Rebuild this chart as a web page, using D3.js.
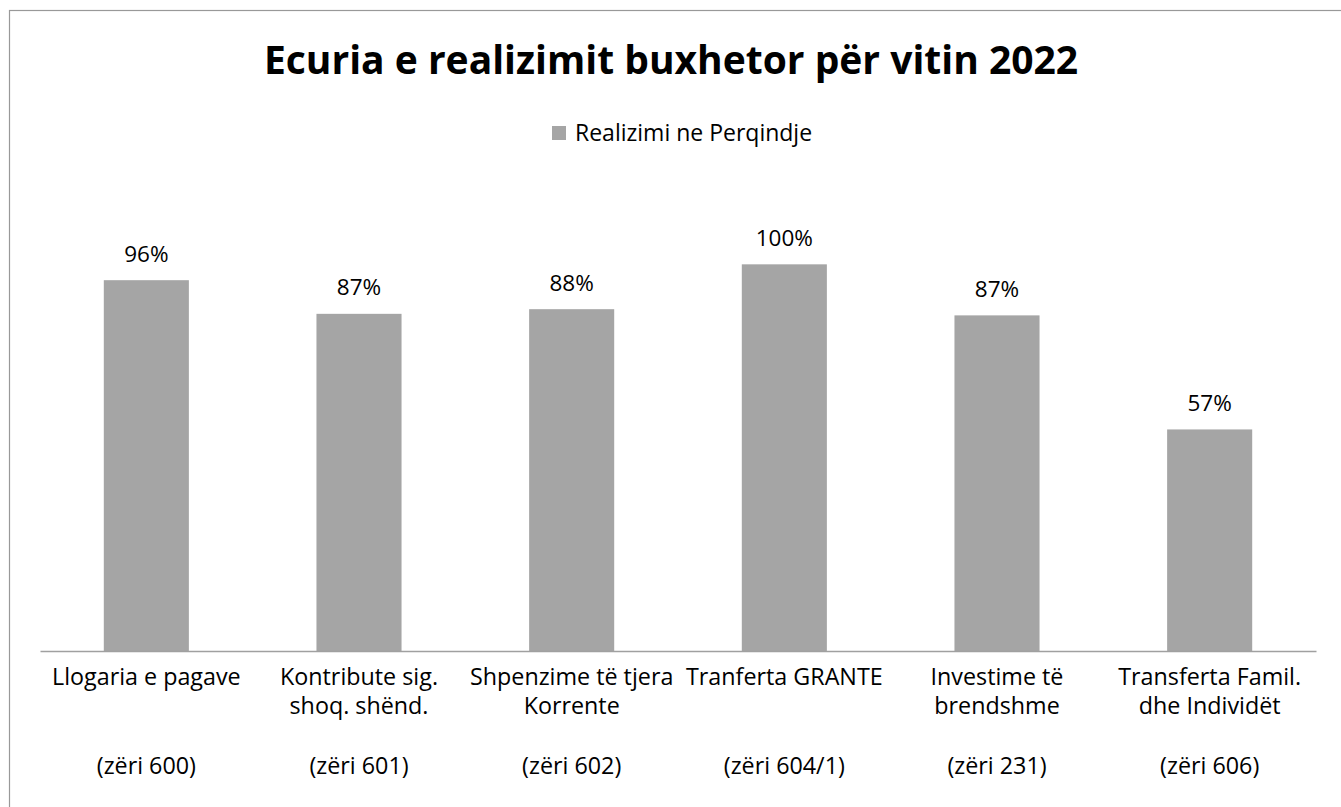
<!DOCTYPE html>
<html>
<head>
<meta charset="utf-8">
<script src="https://cdn.jsdelivr.net/npm/d3@7"></script>
<style>
  body { margin: 0; background: #fff; }
  svg { display: block; font-family: "Open Sans", Lato, sans-serif; }
</style>
</head>
<body>
<div id="chart"></div>
<script>
// data
var categories = ["Llogaria e pagave", "Kontribute sig.\nshoq. shënd.", "Shpenzime të tjera\nKorrente",
                  "Tranferta GRANTE", "Investime të\nbrendshme", "Transferta Famil.\ndhe Individët"];
var codes = ["(zëri 600)", "(zëri 601)", "(zëri 602)", "(zëri 604/1)", "(zëri 231)", "(zëri 606)"];
var realizimi = [0.959, 0.872, 0.884, 1.0, 0.868, 0.573];
var seriesName = "Realizimi ne Perqindje";
var title = "Ecuria e realizimit buxhetor për vitin 2022";

var W = 1341, H = 807;
var plot = {left: 40, right: 1316, top: 187, bottom: 651};
var FONT = "'Open Sans', Lato, sans-serif";

var svg = d3.select("#chart").append("svg")
    .attr("width", W)
    .attr("height", H);

// chart area frame
svg.append("rect")
    .attr("x", 9.5).attr("y", 10.5)
    .attr("width", W + 20).attr("height", H + 20)
    .attr("fill", "#fff")
    .attr("stroke", "#999")
    .attr("stroke-width", 1.2);

//////// SCALES ////////
var xScale = d3.scaleBand()
    .domain(d3.range(categories.length))
    .range([plot.left, plot.right])
    .paddingInner(0.6)
    .paddingOuter(0.3);

var yScale = d3.scaleLinear()
    .domain([0, 1.2])
    .range([plot.bottom, plot.top]);

var pct = d3.format(".0%");

//////// TITLE + LEGEND ////////
svg.append("text")
    .attr("x", 671)
    .attr("y", 74)
    .attr("text-anchor", "middle")
    .attr("font-size", 39)
    .attr("font-weight", "bold")
    .attr("fill", "#000")
    .text(title);

var legend = svg.append("g").attr("transform", "translate(552,126)");
legend.append("rect")
    .attr("width", 14).attr("height", 14)
    .attr("fill", "#a5a5a5");
legend.append("text")
    .attr("x", 23)
    .attr("y", 15)
    .attr("font-size", 23)
    .attr("fill", "#000")
    .text(seriesName);

//////// BARS ////////
svg.append("g")
    .selectAll("rect")
    .data(realizimi)
    .enter().append("rect")
        .attr("x", function(d, i) { return xScale(i); })
        .attr("y", function(d) { return yScale(d); })
        .attr("width", xScale.bandwidth())
        .attr("height", function(d) { return plot.bottom - yScale(d); })
        .attr("fill", "#a5a5a5");

// value labels
svg.append("g")
    .selectAll("text")
    .data(realizimi)
    .enter().append("text")
        .attr("x", function(d, i) { return xScale(i) + xScale.bandwidth() / 2; })
        .attr("y", function(d) { return yScale(d) - 18.5; })
        .attr("text-anchor", "middle")
        .attr("font-size", 22.5)
        .attr("fill", "#000")
        .text(function(d) { return pct(d); });

//////// X AXIS ////////
var xAxis = svg.append("g")
    .attr("transform", "translate(0," + plot.bottom + ")")
    .call(d3.axisBottom(xScale).tickSize(0).tickFormat(""));

xAxis.select(".domain")
    .attr("stroke", "#a0a0a0")
    .attr("stroke-width", 1.5);

xAxis.selectAll(".tick text").remove();
xAxis.selectAll(".tick").each(function(i) {
    var t = d3.select(this).append("text")
        .attr("fill", "#000")
        .attr("font-size", 23.3)
        .attr("text-anchor", "middle")
        .attr("font-family", FONT);
    categories[i].split("\n").forEach(function(line, k) {
        t.append("tspan")
            .attr("x", 0)
            .attr("y", 34 + k * 29)
            .text(line);
    });
    d3.select(this).append("text")
        .attr("fill", "#000")
        .attr("font-size", 23.3)
        .attr("text-anchor", "middle")
        .attr("font-family", FONT)
        .attr("y", 123)
        .text(codes[i]);
});
</script>
</body>
</html>
